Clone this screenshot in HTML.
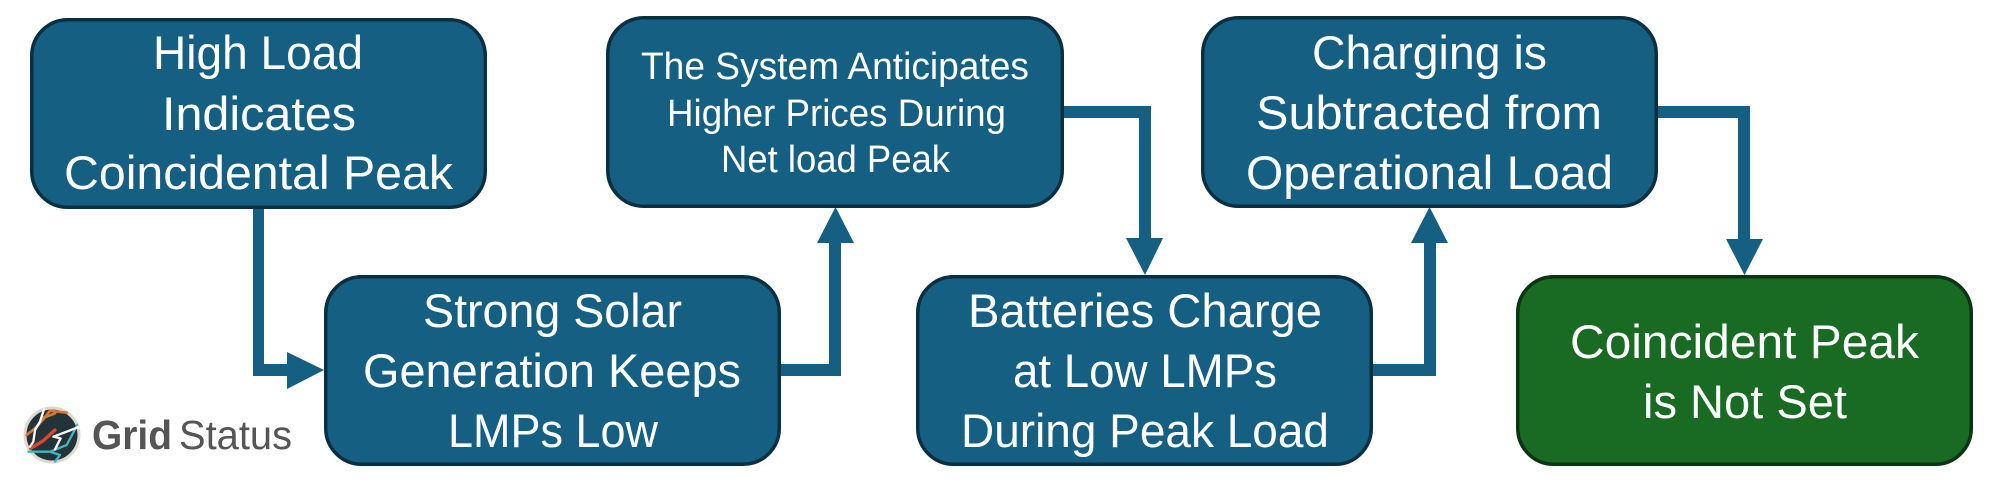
<!DOCTYPE html>
<html lang="en">
<head>
<meta charset="utf-8">
<title>Coincident Peak Flow</title>
<style>
html,body{margin:0;padding:0;background:#fff;width:2000px;height:491px;overflow:hidden}
svg{display:block}
.b{fill:#156082;stroke:#0a2f41;stroke-width:3.5}
.g{fill:#196b24;stroke:#0b3412;stroke-width:3.5}
.c{fill:#156082;stroke:none}
text{font-family:"Liberation Sans",sans-serif;fill:#fff}
.t{font-size:47px}
.s{font-size:38px}
.l{fill:#555;font-size:41px}
</style>
</head>
<body>
<svg width="2000" height="491" viewBox="0 0 2000 491" xmlns="http://www.w3.org/2000/svg">
<rect width="2000" height="491" fill="#fff"/>

<!-- connectors -->
<polygon class="c" points="253,208 264,208 264,364 287,364 287,352 324,370 287,389 287,376 253,376"/>
<polygon class="c" points="781,364 829,364 829,243 817,243 835.5,207 854,243 841,243 841,376 781,376"/>
<polygon class="c" points="1063,106 1151,106 1151,238 1163,238 1145,275 1126,238 1139,238 1139,118 1063,118"/>
<polygon class="c" points="1373,364 1424,364 1424,243 1411,243 1429.5,207 1448,243 1436,243 1436,376 1373,376"/>
<polygon class="c" points="1658,106 1750,106 1750,239 1763,239 1744.5,275 1726,239 1738,239 1738,118 1658,118"/>

<!-- boxes -->
<rect class="b" x="31.75" y="19.75" width="453.5" height="187.5" rx="36"/>
<rect class="b" x="325.75" y="276.75" width="453.5" height="187.5" rx="36"/>
<rect class="b" x="607.75" y="17.75" width="454.5" height="188.5" rx="36"/>
<rect class="b" x="917.75" y="276.75" width="453.5" height="187.5" rx="36"/>
<rect class="b" x="1202.75" y="17.75" width="453.5" height="188.5" rx="36"/>
<rect class="g" x="1517.75" y="276.75" width="453.5" height="187.5" rx="36"/>

<!-- box text -->
<text class="t" x="153" y="69" textLength="210" lengthAdjust="spacingAndGlyphs">High Load</text>
<text class="t" x="162" y="130" textLength="194" lengthAdjust="spacingAndGlyphs">Indicates</text>
<text class="t" x="64" y="189" textLength="389" lengthAdjust="spacingAndGlyphs">Coincidental Peak</text>

<text class="t" x="423" y="327" textLength="259" lengthAdjust="spacingAndGlyphs">Strong Solar</text>
<text class="t" x="363" y="387" textLength="378" lengthAdjust="spacingAndGlyphs">Generation Keeps</text>
<text class="t" x="448" y="447" textLength="210" lengthAdjust="spacingAndGlyphs">LMPs Low</text>

<text class="s" x="641" y="79" textLength="388" lengthAdjust="spacingAndGlyphs">The System Anticipates</text>
<text class="s" x="667" y="126" textLength="339" lengthAdjust="spacingAndGlyphs">Higher Prices During</text>
<text class="s" x="721" y="172" textLength="229" lengthAdjust="spacingAndGlyphs">Net load Peak</text>

<text class="t" x="968" y="327" textLength="354" lengthAdjust="spacingAndGlyphs">Batteries Charge</text>
<text class="t" x="1013" y="387" textLength="264" lengthAdjust="spacingAndGlyphs">at Low LMPs</text>
<text class="t" x="961" y="447" textLength="368" lengthAdjust="spacingAndGlyphs">During Peak Load</text>

<text class="t" x="1312" y="69" textLength="235" lengthAdjust="spacingAndGlyphs">Charging is</text>
<text class="t" x="1256" y="129" textLength="346" lengthAdjust="spacingAndGlyphs">Subtracted from</text>
<text class="t" x="1246" y="189" textLength="367" lengthAdjust="spacingAndGlyphs">Operational Load</text>

<text class="t" x="1570" y="358" textLength="349" lengthAdjust="spacingAndGlyphs">Coincident Peak</text>
<text class="t" x="1643" y="418" textLength="204" lengthAdjust="spacingAndGlyphs">is Not Set</text>

<!-- logo -->
<circle cx="52" cy="435" r="27" fill="#23333a" stroke="#ddd9ce" stroke-width="3"/>
<g transform="translate(0,380) scale(0.3333)" fill="none" stroke-linejoin="round" stroke-linecap="round">
  <path d="M80,165 L105,145 L130,118 L150,92 L200,98 M125,115 L165,100" stroke="#d9772f" stroke-width="8"/>
  <path d="M92,205 L130,182 L165,150" stroke="#d9482a" stroke-width="10"/>
  <path d="M85,215 L150,215 L200,195 L232,135 M150,215 L180,225 L165,245" stroke="#45b5c4" stroke-width="7"/>
  <path d="M132,88 L120,125 L105,150 L100,185 L90,200" stroke="#fff" stroke-width="7"/>
  <path d="M238,140 L200,155 L160,170 L182,175 L165,208" stroke="#fff" stroke-width="7"/>
</g>
<text class="l" x="92" y="449" font-weight="700" textLength="80" lengthAdjust="spacingAndGlyphs">Grid</text>
<text class="l" x="179" y="449" textLength="113" lengthAdjust="spacingAndGlyphs">Status</text>
</svg>
</body>
</html>
